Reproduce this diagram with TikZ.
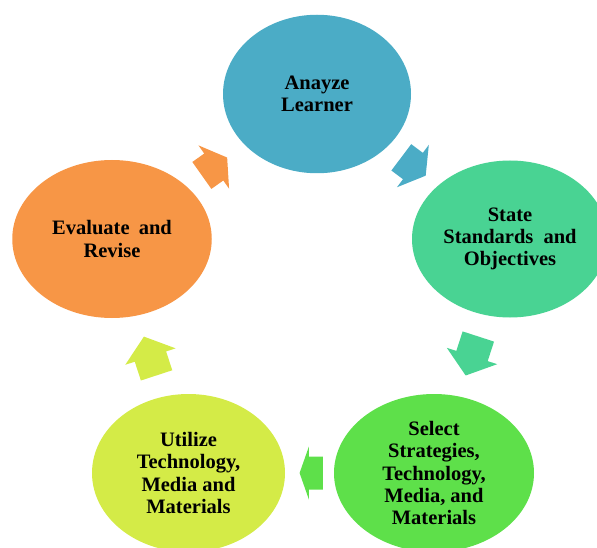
\documentclass[tikz,border=0pt]{standalone}
\usepackage{fontspec}
\setmainfont{Liberation Serif}
\usetikzlibrary{shapes.geometric,calc}

\definecolor{analyzeblue}{HTML}{4BACC6}
\definecolor{stateteal}{HTML}{49D393}
\definecolor{selectgreen}{HTML}{5EE04A}
\definecolor{utilizelime}{HTML}{D4EB47}
\definecolor{evalorange}{HTML}{F79646}

\tikzset{
  stage/.style={ellipse, fill=#1, draw=none, inner sep=0pt},
  stagetext/.style={font=\bfseries\fontsize{20.5}{22.3}\selectfont,
                    align=center, text=black, inner sep=0pt},
  % block arrow centred on the origin, pointing along +x
  % #1 colour, #2 total length, #3 head length
  pics/cyclearrow/.style n args={3}{code={
    \fill[#1] (-#2/2,16.5) -- ({#2/2-#3},16.5) -- ({#2/2-#3},26.5)
      -- (#2/2,0) -- ({#2/2-#3},-26.5) -- ({#2/2-#3},-16.5)
      -- (-#2/2,-16.5) -- cycle;
  }}
}

\begin{document}
\begin{tikzpicture}[x=1pt, y=1pt]
  \useasboundingbox (0,0) rectangle (597,547);
  \clip (0,0) rectangle (597,547);

  % the five stages of the cycle
  \node[stage=analyzeblue, minimum width=188pt, minimum height=158.5pt,
        label={[stagetext]center:Anayze\\Learner}] (analyze) at (317,453) {};
  \node[stage=stateteal, minimum width=196pt, minimum height=157pt,
        label={[stagetext]center:State\\Standards\hspace{5pt} and\\Objectives}] (state) at (510,308) {};
  \node[stage=selectgreen, minimum width=200pt, minimum height=158pt,
        label={[stagetext]center:Select\\Strategies,\\Technology,\\Media, and\\Materials}] (select) at (434,74) {};
  \node[stage=utilizelime, minimum width=193pt, minimum height=158pt,
        label={[stagetext]center:Utilize\\Technology,\\Media and\\Materials}] (utilize) at (188.5,74) {};
  \node[stage=evalorange, minimum width=199.5pt, minimum height=158pt,
        label={[stagetext]center:Evaluate\hspace{4pt} and\\Revise}] (evaluate) at (112,308) {};

  % block arrows between consecutive stages
  \path (analyze.center) -- pic[pos=0.5, sloped, allow upside down]
        {cyclearrow={analyzeblue}{30.5}{16}} (state.center);
  \path (state.center) -- pic[pos=0.5, sloped, allow upside down]
        {cyclearrow={stateteal}{41}{20.5}} (select.center);
  \path (select.center) -- pic[pos=0.5, sloped, allow upside down]
        {cyclearrow={selectgreen}{23.3}{9.3}} (utilize.center);
  \path (utilize.center) -- pic[pos=0.5, sloped, allow upside down]
        {cyclearrow={utilizelime}{40.8}{21}} (evaluate.center);
  \path (evaluate.center) -- pic[pos=0.5, sloped, allow upside down]
        {cyclearrow={evalorange}{31}{16.4}} (analyze.center);
\end{tikzpicture}
\end{document}
